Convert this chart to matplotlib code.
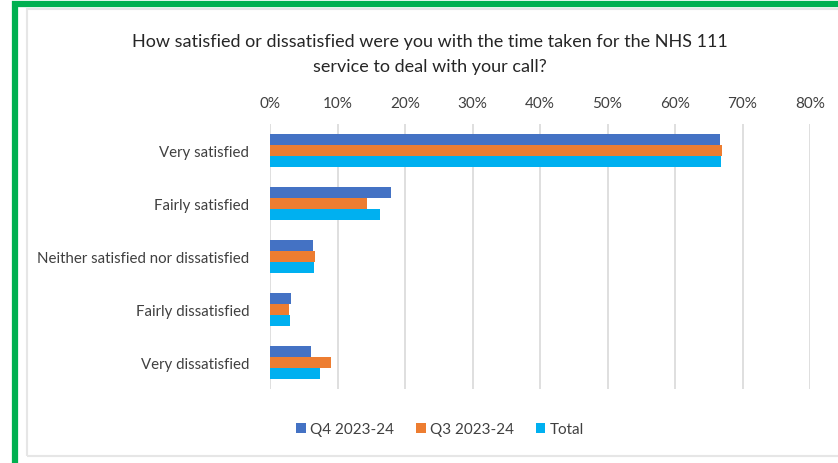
import matplotlib.pyplot as plt
import numpy as np
from matplotlib.patches import Rectangle

plt.rcParams['font.family'] = ['Lato', 'DejaVu Sans']

categories = ["Very satisfied", "Fairly satisfied",
              "Neither satisfied nor dissatisfied", "Fairly dissatisfied",
              "Very dissatisfied"]
series_names = ["Q4 2023-24", "Q3 2023-24", "Total"]
q4 = [66.6, 17.9, 6.3, 3.1, 6.0]
q3 = [67.0, 14.3, 6.7, 2.8, 9.1]
total = [66.8, 16.3, 6.5, 2.9, 7.4]
x_ticks = [0, 10, 20, 30, 40, 50, 60, 70, 80]
x_tick_labels = [f"{t}%" for t in x_ticks]
colors = ["#4472C4", "#ED7D31", "#00B0F0"]

W, H = 838, 464
fig = plt.figure(figsize=(W / 100, H / 100), dpi=100)
fig.patch.set_facecolor("white")

# outer green frame and inner grey frame
fig.add_artist(Rectangle((15 / W, -0.02), 1.05, (H - 5) / H + 0.02,
                         transform=fig.transFigure, fill=False,
                         edgecolor="#00B050", linewidth=4.5))
fig.add_artist(Rectangle((27 / W, (H - 457) / H), 0.99, (457 - 10) / H,
                         transform=fig.transFigure, fill=False,
                         edgecolor="#E6E6E6", linewidth=1.5))

ax = fig.add_axes([270 / W, 1 - 390 / H, 540 / W, 265 / H])
y = np.arange(len(categories))
bh = 0.21
for i, (vals, name) in enumerate(zip([q4, q3, total], series_names)):
    ax.barh(y + (i - 1) * bh, vals, height=bh, color=colors[i], label=name,
            zorder=3)

ax.set_ylim(len(categories) - 0.5, -0.5)
ax.set_xlim(0, 80)
ax.set_xticks(x_ticks)
ax.set_xticklabels(x_tick_labels)
ax.set_yticks(y)
ax.set_yticklabels(categories)
ax.xaxis.tick_top()
ax.tick_params(axis="x", length=0, labelsize=11, colors="#404040", pad=10)
ax.tick_params(axis="y", length=0, labelsize=10.8, colors="#404040", pad=15)
ax.grid(axis="x", color="#D9D9D9", linewidth=1.2, zorder=0)
for s in ax.spines.values():
    s.set_visible(False)

fig.text(430 / W, 1 - 54.5 / H,
         "How satisfied or dissatisfied were you with the time taken for the NHS 111\nservice to deal with your call?",
         ha="center", va="center", fontsize=13, color="#262626",
         linespacing=1.75)

handles, labels = ax.get_legend_handles_labels()
fig.legend(handles, labels, loc="center", bbox_to_anchor=(440 / W, 1 - 430 / H),
           ncol=3, frameon=False, fontsize=11, handlelength=0.65,
           handleheight=0.65, handletextpad=0.3, columnspacing=1.4,
           labelcolor="#404040")

fig.savefig("out.png", dpi=100)
